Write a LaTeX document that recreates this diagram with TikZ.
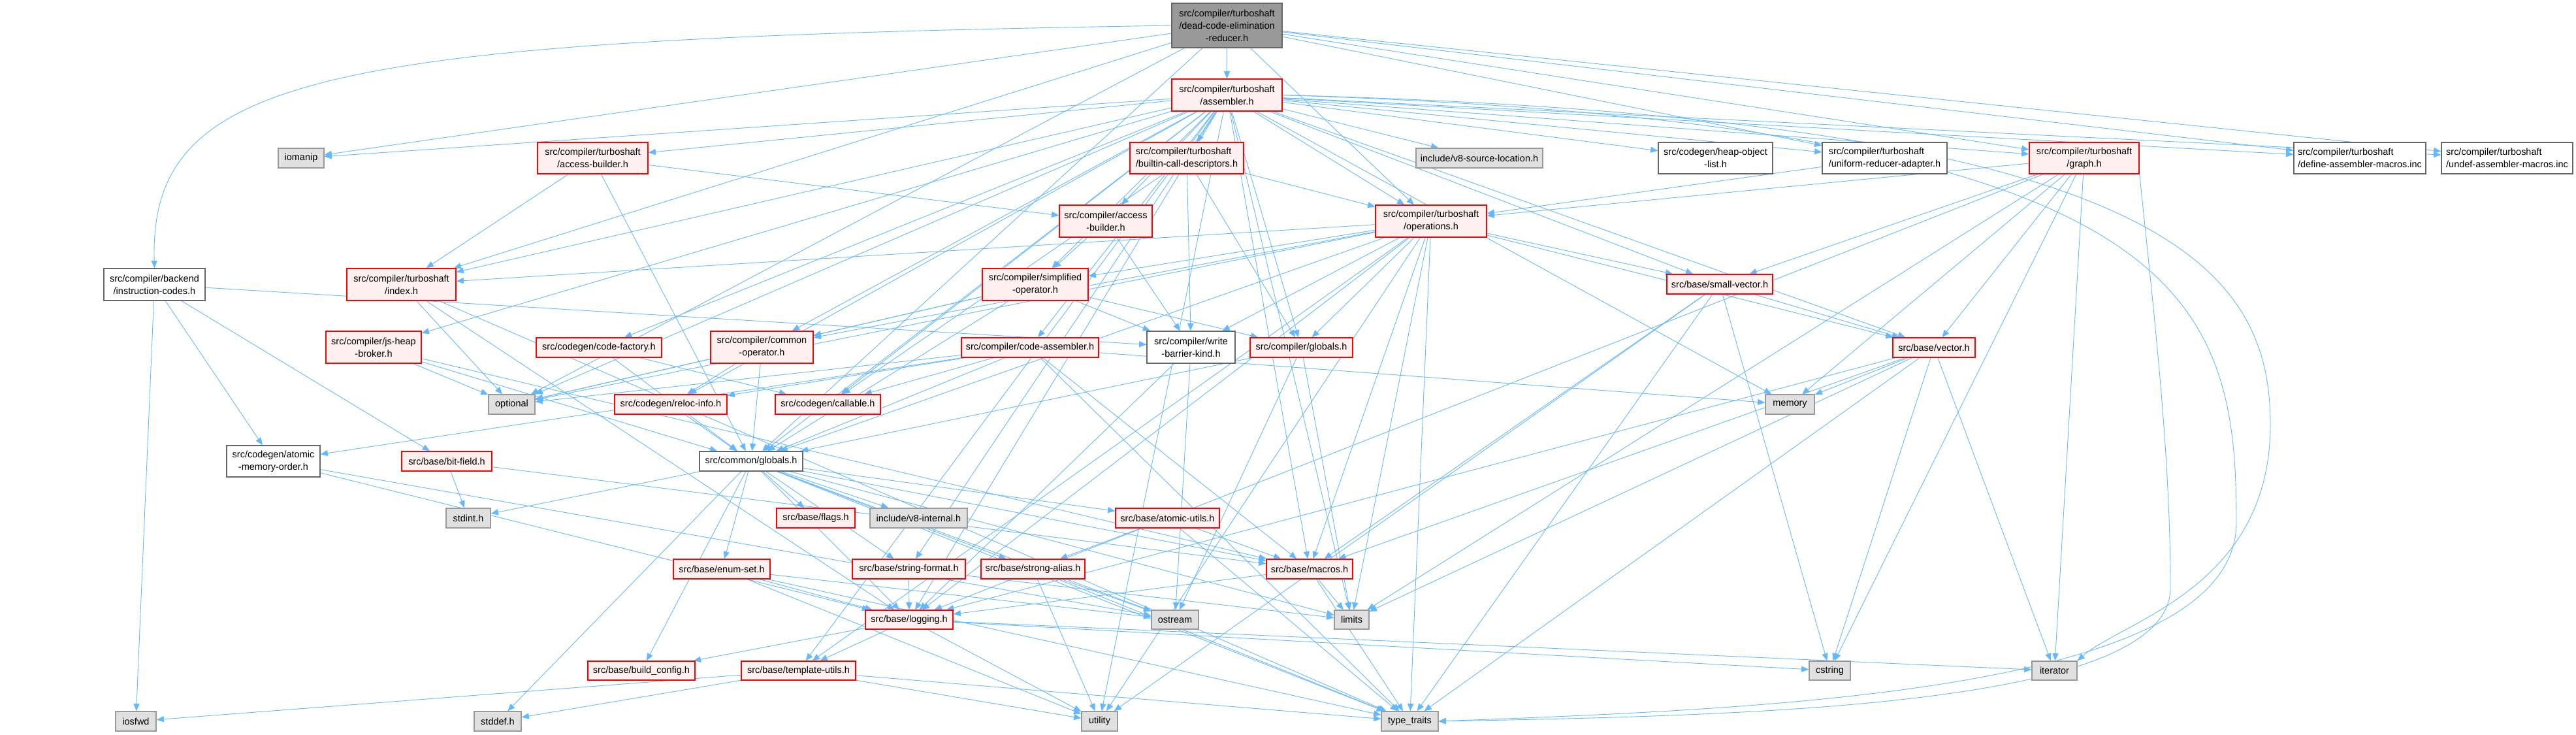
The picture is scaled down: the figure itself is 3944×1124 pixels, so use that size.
\documentclass[tikz,border=0pt]{standalone}
\usepackage{fontspec}
\setmainfont{Liberation Sans}
\usetikzlibrary{arrows.meta}
\pgfdeclarelayer{bg}
\pgfdeclarelayer{paper}
\pgfsetlayers{paper,bg,main}
\definecolor{edgec}{HTML}{63B8FF}
\definecolor{redfill}{HTML}{FFF0F0}
\definecolor{redline}{HTML}{FF0000}
\definecolor{rootfill}{HTML}{999999}
\definecolor{darkline}{HTML}{666666}
\definecolor{extfill}{HTML}{E0E0E0}
\definecolor{extline}{HTML}{999999}
\begin{document}
\begin{tikzpicture}[x=0.25mm,y=-0.25mm,
  font=\fontsize{10.3}{13.5}\selectfont,
  nd/.style 2 args={draw, line width=0.35mm, inner sep=0pt, align=center,
    minimum width=#1*0.25mm, minimum height=#2*0.25mm},
  rootn/.style={fill=rootfill, draw=darkline},
  redn/.style={fill=redfill, draw=redline},
  whiten/.style={fill=white, draw=darkline},
  extn/.style={fill=extfill, draw=extline},
  edge/.style={draw=edgec, line width=0.22mm,
    -{Triangle[length=2.8mm, width=2.3mm]}}]
\begin{pgfonlayer}{paper}
\fill[white] (0,0) rectangle (3944,1124);
\end{pgfonlayer}
\useasboundingbox (0,0) rectangle (3944,1124);

% row 0-1
\node[rootn, nd={169}{68}] (root) at (1878.5,39) {src/compiler/turboshaft\\/dead-code-elimination\\-reducer.h};
\node[redn, nd={169}{49}] (asm) at (1878.5,145.5) {src/compiler/turboshaft\\/assembler.h};
% row 2
\node[extn, nd={70}{30}] (iomanip) at (461,242) {iomanip};
\node[redn, nd={169}{48}] (tsab) at (907.5,242) {src/compiler/turboshaft\\/access-builder.h};
\node[redn, nd={174}{48}, align=left] (bcd) at (1817,242) {src/compiler/turboshaft\\/builtin-call-descriptors.h};
\node[extn, nd={194}{30}] (vsl) at (2265,242) {include/v8-source-location.h};
\node[whiten, nd={175}{48}] (hol) at (2626.5,242) {src/codegen/heap-object\\-list.h};
\node[whiten, nd={191}{48}, align=left] (ura) at (2885.5,242) {src/compiler/turboshaft\\/uniform-reducer-adapter.h};
\node[redn, nd={168}{48}] (graph) at (3191,242) {src/compiler/turboshaft\\/graph.h};
\node[whiten, nd={202}{48}, align=left] (define) at (3613,242) {src/compiler/turboshaft\\/define-assembler-macros.inc};
\node[whiten, nd={201}{48}, align=left] (undef) at (3838.5,242) {src/compiler/turboshaft\\/undef-assembler-macros.inc};
% row 3
\node[redn, nd={142}{49}] (cab) at (1693,338.5) {src/compiler/access\\-builder.h};
\node[redn, nd={170}{49}] (ops) at (2191,338.5) {src/compiler/turboshaft\\/operations.h};
% row 4
\node[whiten, nd={155}{49}] (ic) at (236.5,435.5) {src/compiler/backend\\/instruction-codes.h};
\node[redn, nd={167}{49}] (idx) at (614.5,435.5) {src/compiler/turboshaft\\/index.h};
\node[redn, nd={162}{49}] (so) at (1585,435.5) {src/compiler/simplified\\-operator.h};
\node[redn, nd={162}{30}] (sv) at (2633,435) {src/base/small-vector.h};
% row 5
\node[redn, nd={146}{49}] (jhb) at (572,531.5) {src/compiler/js-heap\\-broker.h};
\node[redn, nd={192}{30}] (cf) at (917,532) {src/codegen/code-factory.h};
\node[redn, nd={157}{49}] (co) at (1166.5,531.5) {src/compiler/common\\-operator.h};
\node[redn, nd={210}{30}] (ca) at (1577,532) {src/compiler/code-assembler.h};
\node[whiten, nd={135}{49}] (wbk) at (1823.5,531.5) {src/compiler/write\\-barrier-kind.h};
\node[redn, nd={157}{30}] (cg) at (1992.5,532) {src/compiler/globals.h};
\node[redn, nd={126}{30}] (vec) at (2961,532) {src/base/vector.h};
% row 6
\node[extn, nd={71}{30}] (opt) at (783.5,619) {optional};
\node[redn, nd={172}{30}] (ri) at (1027,619) {src/codegen/reloc-info.h};
\node[redn, nd={161}{30}] (call) at (1267.5,619) {src/codegen/callable.h};
\node[extn, nd={75}{30}] (mem) at (2740.5,619) {memory};
% row 7
\node[whiten, nd={143}{48}] (amo) at (418.5,706) {src/codegen/atomic\\-memory-order.h};
\node[redn, nd={138}{30}] (bf) at (684,706) {src/base/bit-field.h};
\node[whiten, nd={158}{30}] (glob) at (1150,706) {src/common/globals.h};
% row 8
\node[extn, nd={68}{30}] (stdint) at (717,793) {stdint.h};
\node[redn, nd={120}{30}] (flags) at (1249,793) {src/base/flags.h};
\node[extn, nd={149}{30}] (vi) at (1406.5,793) {include/v8-internal.h};
\node[redn, nd={159}{30}] (au) at (1787.5,793) {src/base/atomic-utils.h};
% row 9
\node[redn, nd={148}{30}] (es) at (1105,871) {src/base/enum-set.h};
\node[redn, nd={173}{30}] (sf) at (1391.5,871) {src/base/string-format.h};
\node[redn, nd={159}{30}] (sa) at (1581.5,871) {src/base/strong-alias.h};
\node[redn, nd={132}{30}] (mac) at (2005,871) {src/base/macros.h};
% row 10
\node[redn, nd={134}{29}] (log) at (1392,948.5) {src/base/logging.h};
\node[extn, nd={72}{29}] (ost) at (1799,948.5) {ostream};
\node[extn, nd={53}{29}] (lim) at (2069.5,948.5) {limits};
% row 11
\node[redn, nd={164}{29}] (bc) at (982,1026.5) {src/base/build\_config.h};
\node[redn, nd={175}{29}] (tu) at (1222.5,1026.5) {src/base/template-utils.h};
\node[extn, nd={63}{29}] (cstr) at (2801.5,1026.5) {cstring};
\node[extn, nd={69}{29}] (iter) at (3145.5,1026.5) {iterator};
% row 12
\node[extn, nd={62}{30}] (iosfwd) at (208,1104) {iosfwd};
\node[extn, nd={72}{30}] (stddef) at (762,1104) {stddef.h};
\node[extn, nd={55}{30}] (util) at (1683.5,1104) {utility};
\node[extn, nd={87}{30}] (tt) at (2158.5,1104) {type\_traits};

\begin{pgfonlayer}{bg}
\foreach \s/\t in {root/asm, root/iomanip, root/opt, root/glob, root/graph, root/idx, root/ops, root/ura, root/define, root/undef,
  asm/iomanip, asm/opt, asm/lim, asm/mem, asm/util, asm/vsl, asm/log, asm/mac, asm/sv, asm/sf, asm/tu, asm/vec, asm/call, asm/cf, asm/hol, asm/ri, asm/cab, asm/ca, asm/co, asm/cg, asm/jhb, asm/so, asm/tsab, asm/bcd, asm/graph, asm/idx, asm/ops, asm/ura, asm/define, asm/undef, asm/glob,
  tsab/cab, tsab/idx, tsab/glob,
  bcd/ops, bcd/wbk, bcd/cg, bcd/call,
  ura/ops,
  graph/ops, graph/sv, graph/vec, graph/mem, graph/iter, graph/lim, graph/log, graph/cstr,
  ops/idx, ops/co, ops/so, ops/opt, ops/glob, ops/cg, ops/wbk, ops/sv, ops/vec, ops/mac, ops/log, ops/tu, ops/lim, ops/tt, ops/util,
  cab/so, cab/wbk,
  ic/iosfwd, ic/amo, ic/bf, ic/wbk,
  idx/opt, idx/log, idx/tt,
  jhb/opt, jhb/glob, jhb/mac,
  cf/call, cf/glob,
  co/ri, co/glob, co/opt,
  so/co, so/wbk, so/cg, so/glob, so/opt,
  ca/call, ca/ri, ca/glob, ca/mac, ca/tt, ca/mem, ca/amo, ca/opt,
  wbk/log, wbk/ost,
  cg/glob, cg/lim, cg/ost,
  sv/vec, sv/mac, sv/cstr, sv/tt, sv/util,
  vec/mem, vec/lim, vec/log, vec/mac, vec/cstr, vec/iter, vec/tt,
  ri/glob,
  amo/log, amo/ost,
  bf/stdint, bf/mac,
  glob/stdint, glob/stddef, glob/flags, glob/vi, glob/au, glob/es, glob/sf, glob/sa, glob/mac, glob/log, glob/ost, glob/lim, glob/bc, glob/tt,
  au/mac, au/tt, au/sa,
  es/log, es/ost, es/tt, es/util,
  sf/log, sf/lim,
  sa/ost, sa/tt, sa/util,
  mac/lim, mac/tt, mac/log,
  log/bc, log/tu, log/util, log/cstr, log/iter,
  tu/iosfwd, tu/stddef, tu/tt, tu/util}
  \draw[edge] (\s) -- (\t);
% routed edges
\draw[edge] (root.west) .. controls (500,60) and (228,110) .. (ic.north);
\draw[edge] (asm.east) .. controls (3300,180) and (3476,400) .. (3476,650) .. controls (3476,900) and (3250,950) .. (iter.north east);
\draw[edge] (asm.east) .. controls (3350,190) and (3424,450) .. (3424,800) .. controls (3424,1060) and (2700,1085) .. (tt.east);
\draw[edge] (graph.south east) .. controls (3300,500) and (3323,700) .. (3323,900) .. controls (3323,1080) and (2700,1095) .. (tt.east);
\end{pgfonlayer}
\end{tikzpicture}
\end{document}
